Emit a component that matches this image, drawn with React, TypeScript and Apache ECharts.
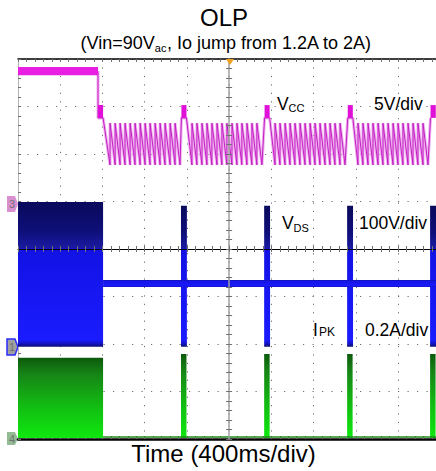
import React, { useEffect, useRef } from 'react';
import * as echarts from 'echarts';

// Horizontal axis: time in ms (0 = trigger, screen centre), 400 ms/div
const TIME_MIN = -2000;
const TIME_MAX = 1960;
const TIME_DIV = 400;
// Vertical axis: screen divisions
const DIV_MIN = -4;
const DIV_MAX = 4;

// ---- VCC (5V/div) ----
// normal-operation band before the load jump: [t0, t1, vLow, vHigh]
const vccNormalBand = [[-2000, -1242, 3.66, 3.83]];
const VCC_NORMAL_LEVEL = 3.74;
// hiccup restart pulses: [t0, t1, vLow, vHigh]
const vccPulses = [
  [-1242, -1194, 2.76, 3.03],
  [-452, -404, 2.76, 3.03],
  [336, 384, 2.76, 3.03],
  [1124, 1172, 2.76, 3.03],
  [1908, 1958, 2.76, 3.03],
];
const VCC_PULSE_BASE = 2.76;
// sawtooth reset instants between pulses (last value = end of final ramp)
const vccTeethSeg1 = [-1128, -1080, -1033, -986, -938, -891, -843, -796, -749, -701, -654, -607, -559, -512, -465];
const vccTeethSeg2 = [-352, -305, -257, -210, -163, -115, -68, -21, 27, 74, 121, 169, 216, 263, 311];
const vccTeethSeg3 = [435, 482, 530, 577, 624, 672, 719, 767, 814, 861, 909, 956, 1003, 1051, 1098];
const vccTeethSeg4 = [1221, 1268, 1316, 1363, 1411, 1458, 1505, 1553, 1600, 1647, 1695, 1742, 1789, 1837, 1884];
const VCC_TOOTH_TOP = 2.65;
const VCC_TOOTH_BOTTOM = 1.77;

// ---- VDS (100V/div) / IPK (0.2A/div) ----
const vdsSwitching = [[-2000, -1194, -2.06, 0.99]];
const vdsBursts = [
  [-456, -400, -2.06, 0.91],
  [332, 388, -2.06, 0.91],
  [1118, 1174, -2.06, 0.91],
  [1904, 1960, -2.06, 0.91],
];
const vdsIdle = [[-1194, 1960, -0.80, -0.65]];

// ---- CH4 (green) ----
const ch4Switching = [[-2000, -1194, -3.98, -2.29]];
const ch4Bursts = [
  [-456, -404, -3.98, -2.21],
  [332, 384, -3.98, -2.21],
  [1118, 1170, -3.98, -2.21],
  [1904, 1956, -3.98, -2.21],
];
const ch4Idle = [[-1194, -3.96], [1960, -3.96]];

const FONT = "'Liberation Sans', Arial, Helvetica, sans-serif";

function buildVccTrace(): number[][] {
  const segs = [vccTeethSeg1, vccTeethSeg2, vccTeethSeg3, vccTeethSeg4];
  const pts: number[][] = [
    [vccNormalBand[0][1], VCC_NORMAL_LEVEL],
    [vccPulses[0][0], VCC_PULSE_BASE],
  ];
  segs.forEach((seg, i) => {
    pts.push([vccPulses[i][1], VCC_PULSE_BASE]);
    pts.push([seg[0], VCC_TOOTH_BOTTOM]);
    for (let k = 0; k < seg.length - 1; k++) {
      pts.push([seg[k], VCC_TOOTH_TOP]);
      pts.push([seg[k + 1], VCC_TOOTH_BOTTOM]);
    }
    pts.push([vccPulses[i + 1][0], VCC_PULSE_BASE]);
  });
  return pts;
}

type Stops = (v0: number, v1: number) => { offset: number; color: string }[];

function bandSeries(name: string, data: number[][], stops: Stops, z: number) {
  return {
    type: 'custom',
    name,
    data,
    z,
    clip: true,
    silent: true,
    encode: { x: [0, 1], y: [2, 3] },
    renderItem: (_p: any, api: any) => {
      const v0 = api.value(2);
      const v1 = api.value(3);
      const a = api.coord([api.value(0), v1]);
      const b = api.coord([api.value(1), v0]);
      return {
        type: 'rect',
        shape: { x: a[0], y: a[1], width: b[0] - a[0], height: b[1] - a[1] },
        style: { fill: new echarts.graphic.LinearGradient(0, 0, 0, 1, stops(v0, v1)) },
      };
    },
  };
}

const solid = (c: string): Stops => () => [
  { offset: 0, color: c },
  { offset: 1, color: c },
];

const idleStops: Stops = () => [
  { offset: 0, color: '#1010b0' },
  { offset: 0.2, color: '#1616e6' },
  { offset: 0.85, color: '#1a1aff' },
  { offset: 1, color: '#1212b8' },
];

const vdsStops: Stops = (v0, v1) => {
  const zf = Math.min(0.98, Math.max(0.02, v1 / (v1 - v0)));
  return [
    { offset: 0, color: '#0a0a5c' },
    { offset: zf * 0.6, color: '#0e0e78' },
    { offset: zf - 0.01, color: '#1a1aa0' },
    { offset: zf, color: '#1212e4' },
    { offset: 0.95, color: '#1a1cff' },
    { offset: 0.975, color: '#1414c8' },
    { offset: 1, color: '#0c0c70' },
  ];
};

const greenStops: Stops = () => [
  { offset: 0, color: '#0c5a0c' },
  { offset: 0.2, color: '#168416' },
  { offset: 0.6, color: '#12bc12' },
  { offset: 1, color: '#0fe80f' },
];

const tickStyle = { color: '#707070', width: 1 };
const gridDot = '#6e6e6e';

function xAxisBase(extra: any) {
  return {
    type: 'value',
    min: TIME_MIN,
    max: TIME_MAX,
    interval: TIME_DIV,
    axisLabel: { show: false },
    splitLine: { show: false },
    ...extra,
  };
}
function yAxisBase(extra: any) {
  return {
    type: 'value',
    min: DIV_MIN,
    max: DIV_MAX,
    interval: 1,
    axisLabel: { show: false },
    splitLine: { show: false },
    ...extra,
  };
}

function marker(x: number, y: number, h: number, fill: string, stroke: string, label: string) {
  return {
    type: 'group',
    children: [
      {
        type: 'polygon',
        shape: { points: [[x, y], [x + 8, y], [x + 11, y + h / 2], [x + 8, y + h], [x, y + h]] },
        style: { fill, stroke, lineWidth: stroke === 'none' ? 0 : 1.5 },
      },
      {
        type: 'text',
        x: x + 5,
        y: y + h / 2,
        style: { text: label, fill: '#707070', font: `11px ${FONT}`, align: 'center', verticalAlign: 'middle' },
      },
    ],
  };
}

// text with alphabetic-baseline control: zrender 'middle' puts the em-box centre
// (0.3465 em above the baseline for Liberation Sans) at y
function txt(x: number, baseline: number, text: string, size: number, align = 'left', z = 20) {
  return {
    type: 'text',
    x,
    y: baseline - 0.3465 * size,
    z,
    style: { text, fill: '#000', fontSize: size, fontFamily: FONT, align, verticalAlign: 'middle' },
  };
}

export default function App() {
  const ref = useRef<HTMLDivElement>(null);
  useEffect(() => {
    if (!ref.current) return;
    const chart = echarts.init(ref.current, undefined, { renderer: 'svg' });
    chart.setOption({
      animation: false,
      backgroundColor: '#ffffff',
      grid: { left: 18, top: 59, right: 0, bottom: 32, containLabel: false },
      xAxis: [
        xAxisBase({
          position: 'bottom',
          axisLine: { show: true, onZero: false, lineStyle: { color: '#000', width: 2.5 } },
          axisTick: { show: true, inside: true, length: 3, lineStyle: tickStyle },
          minorTick: { show: true, splitNumber: 5, length: 3, lineStyle: tickStyle },
          splitLine: { show: true, lineStyle: { color: gridDot, width: 1, type: [1.2, 7.24] } },
        }),
        xAxisBase({
          position: 'top',
          axisLine: { show: true, onZero: false, lineStyle: { color: '#000', width: 1.5 } },
          axisTick: { show: true, inside: true, length: 3, lineStyle: tickStyle },
          minorTick: { show: true, splitNumber: 5, length: 3, lineStyle: tickStyle },
        }),
        xAxisBase({
          position: 'bottom',
          z: 10,
          axisLine: { show: true, onZero: true, onZeroAxisIndex: 0, lineStyle: { color: '#000', width: 1.2 } },
          axisTick: { show: true, inside: true, length: 3, lineStyle: tickStyle },
          minorTick: { show: true, splitNumber: 5, length: 3, lineStyle: tickStyle },
        }),
        xAxisBase({
          position: 'bottom',
          z: 10,
          axisLine: { show: false, onZero: true, onZeroAxisIndex: 0 },
          axisTick: { show: true, inside: false, length: 3, lineStyle: tickStyle },
          minorTick: { show: true, splitNumber: 5, length: 3, lineStyle: tickStyle },
        }),
      ],
      yAxis: [
        yAxisBase({
          position: 'left',
          axisLine: { show: true, onZero: false, lineStyle: { color: '#b4b4b4', width: 1 } },
          axisTick: { show: true, inside: true, length: 3, lineStyle: tickStyle },
          minorTick: { show: true, splitNumber: 5, length: 3, lineStyle: tickStyle },
          splitLine: { show: true, lineStyle: { color: gridDot, width: 1, type: [1.2, 8.3] } },
        }),
        yAxisBase({
          position: 'left',
          z: 10,
          axisLine: { show: true, onZero: true, onZeroAxisIndex: 0, lineStyle: { color: '#a0a0a0', width: 1.5 } },
          axisTick: { show: true, inside: true, length: 3, lineStyle: tickStyle },
          minorTick: { show: true, splitNumber: 5, length: 3, lineStyle: tickStyle },
        }),
        yAxisBase({
          position: 'left',
          z: 10,
          axisLine: { show: false, onZero: true, onZeroAxisIndex: 0 },
          axisTick: { show: true, inside: false, length: 3, lineStyle: tickStyle },
          minorTick: { show: true, splitNumber: 5, length: 3, lineStyle: tickStyle },
        }),
      ],
      series: [
        // VDS / IPK
        bandSeries('VDS switching', vdsSwitching, vdsStops, 2),
        bandSeries('VDS bursts', vdsBursts, vdsStops, 2),
        bandSeries('VDS idle', vdsIdle, idleStops, 2),
        // CH4
        bandSeries('CH4 switching', ch4Switching, greenStops, 2),
        bandSeries('CH4 bursts', ch4Bursts, greenStops, 2),
        {
          type: 'line',
          name: 'CH4 idle',
          data: ch4Idle,
          showSymbol: false,
          silent: true,
          z: 3,
          lineStyle: { color: '#1f8a1f', width: 1.5 },
        },
        // VCC
        {
          type: 'line',
          name: 'VCC glow',
          data: buildVccTrace(),
          showSymbol: false,
          silent: true,
          z: 3,
          lineStyle: { color: '#f0aef0', width: 3 },
        },
        {
          type: 'line',
          name: 'VCC',
          data: buildVccTrace(),
          showSymbol: false,
          silent: true,
          z: 4,
          lineStyle: { color: '#c21ec2', width: 1 },
        },
        bandSeries('VCC normal', vccNormalBand, solid('#e81ee2'), 5),
        bandSeries('VCC pulses', vccPulses, solid('#e010d8'), 5),
      ],
      graphic: [
        txt(224, 25.7, 'OLP', 24, 'center'),
        {
          type: 'text',
          x: 226,
          y: 42.8,
          style: {
            text: '(Vin=90V{s|ac}, Io jump from 1.2A to 2A)',
            fill: '#000',
            fontSize: 18,
            fontFamily: FONT,
            lineHeight: 22,
            align: 'center',
            verticalAlign: 'middle',
            rich: { s: { fontSize: 11, fontFamily: FONT, color: '#000', lineHeight: 13, verticalAlign: 'bottom' } },
          },
        },
        txt(223.5, 462, 'Time (400ms/div)', 24, 'center'),
        // channel annotations
        txt(277, 110, 'V', 17.5),
        txt(288.5, 112.3, 'CC', 11),
        txt(374, 110, '5V/div', 17.5),
        txt(282, 229.3, 'V', 17.5),
        txt(293.5, 231.7, 'DS', 11),
        txt(359, 229.3, '100V/div', 17.5),
        txt(313, 335.7, 'I', 17.5),
        txt(319, 335.7, 'PK', 12),
        txt(365, 335.7, '0.2A/div', 17.5),
        marker(7, 196, 16, '#d890d0', 'none', '3'),
        marker(7, 339, 16, '#a0a0a0', '#2a2aff', '1'),
        marker(7, 432, 13, '#94bc94', 'none', '4'),
        {
          type: 'polygon',
          z: 30,
          shape: { points: [[226, 59], [234, 59], [230, 65]] },
          style: { fill: '#f0a020' },
        },
      ],
    });
    return () => chart.dispose();
  }, []);
  return <div ref={ref} style={{ position: 'fixed', left: 0, top: 0, width: 436, height: 471 }} />;
}
